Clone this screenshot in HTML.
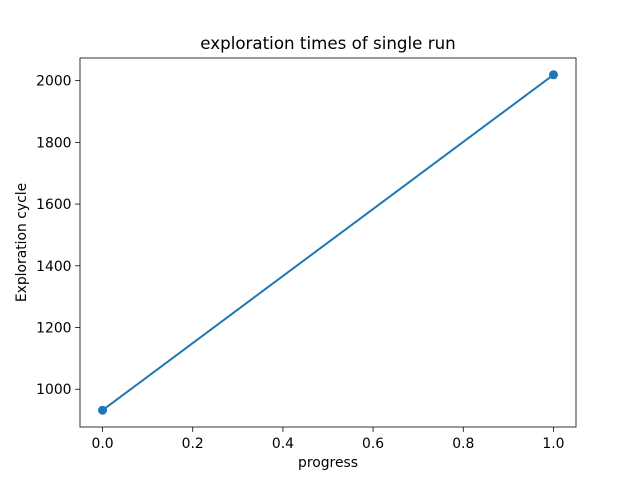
<!DOCTYPE html>
<html><head><meta charset="utf-8"><style>
body{margin:0;background:#fff}
svg text{font-family:"DejaVu Sans","Liberation Sans",sans-serif;fill:#000}
</style></head><body>
<svg id="chart" width="640" height="480" xmlns="http://www.w3.org/2000/svg">
<rect width="640" height="480" fill="#fff"/>
<text x="328" y="49" text-anchor="middle" font-size="16.7">exploration times of single run</text>
<text x="328" y="467" text-anchor="middle" font-size="13.9">progress</text>
<text transform="translate(26,242.5) rotate(-90)" text-anchor="middle" font-size="13.9">Exploration cycle</text>
<g id="plot"></g>
</svg>
<script>
const xValues = [0, 1];
const yValues = [932, 2019];
const xTicks = [0.0, 0.2, 0.4, 0.6, 0.8, 1.0];
const xTickLabels = ["0.0", "0.2", "0.4", "0.6", "0.8", "1.0"];
const yTicks = [1000, 1200, 1400, 1600, 1800, 2000];
const yTickLabels = ["1000", "1200", "1400", "1600", "1800", "2000"];

const L = 80, R = 576, T = 58, B = 427;
const xmin0 = Math.min(...xValues), xmax0 = Math.max(...xValues);
const ymin0 = Math.min(...yValues), ymax0 = Math.max(...yValues);
const xm = (xmax0 - xmin0) * 0.05 || 0.05, ym = (ymax0 - ymin0) * 0.05 || 1;
const xmin = xmin0 - xm, xmax = xmax0 + xm, ymin = ymin0 - ym, ymax = ymax0 + ym;
const sx = v => L + (v - xmin) / (xmax - xmin) * (R - L);
const sy = v => B - (v - ymin) / (ymax - ymin) * (B - T);
const NS = "http://www.w3.org/2000/svg";
const g = document.getElementById('plot');
function mk(tag, attrs) { const e = document.createElementNS(NS, tag); for (const k in attrs) e.setAttribute(k, attrs[k]); g.appendChild(e); return e; }

xTicks.forEach((t, i) => {
  const x = sx(t);
  const tk = mk('line', {x1: x, x2: x, y1: B, y2: B + 4.9, stroke: '#000', 'stroke-width': 0.8});
  
  
  const tx = mk('text', {x: x, y: B + 21, 'text-anchor': 'middle', 'font-size': 13.9});
  tx.textContent = xTickLabels[i];
  
  
});
yTicks.forEach((t, i) => {
  const y = sy(t);
  const tk = mk('line', {x1: L - 4.9, x2: L, y1: y, y2: y, stroke: '#000', 'stroke-width': 0.8});
  
  
  const tx = mk('text', {x: L - 8.5, y: y + 5, 'text-anchor': 'end', 'font-size': 13.9});
  tx.textContent = yTickLabels[i];
  
  
});
const pts = xValues.map((v, i) => sx(v) + ',' + sy(yValues[i])).join(' ');
const line = mk('polyline', {points: pts, fill: 'none', stroke: '#1f77b4', 'stroke-width': 2});


xValues.forEach((v, i) => {
  const c = mk('circle', {cx: sx(v), cy: sy(yValues[i]), r: 4.5, fill: '#1f77b4'});
  
  
});
const frame = mk('rect', {x: L, y: T, width: R - L, height: B - T, fill: 'none', stroke: '#000', 'stroke-width': 0.8});


</script>
</body></html>
